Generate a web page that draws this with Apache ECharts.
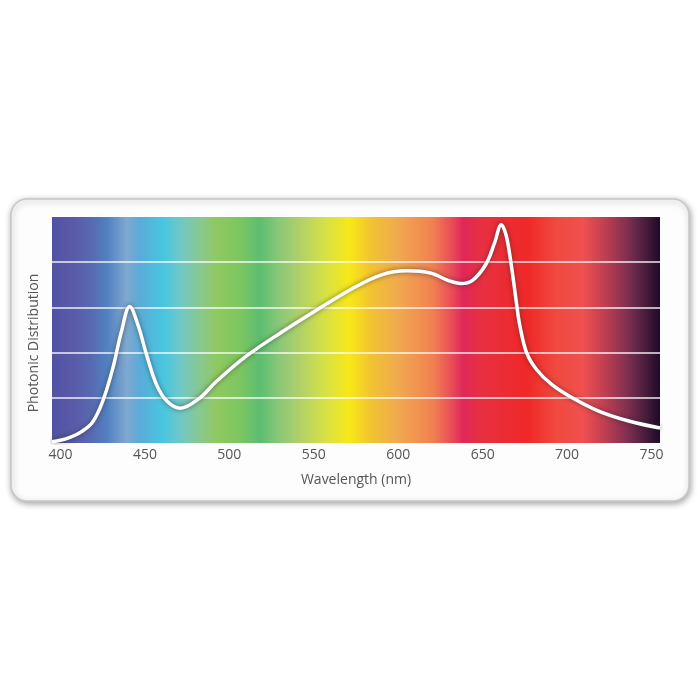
<!DOCTYPE html>
<html>
<head>
<meta charset="utf-8">
<script src="https://cdn.jsdelivr.net/npm/echarts@6/dist/echarts.min.js"></script>
<style>html,body{margin:0;padding:0;background:#fff}#c{width:700px;height:700px}</style>
</head>
<body>
<div id="c"></div>
<script>
// Data
const wavelengths = [395,400,406,412,419,425,431,436,441,446,451,457,463,471,482,492,510,530,552,573,590,605,619,630,637,644,652,657,661,664,667,670,672,676,682,691,703,719,737,755];
const distribution = [0.03,0.06,0.13,0.24,0.46,0.92,1.65,2.45,3.02,2.6,1.95,1.28,0.93,0.77,0.98,1.35,1.92,2.43,2.95,3.42,3.72,3.81,3.76,3.59,3.53,3.6,3.96,4.42,4.83,4.58,3.92,3.1,2.6,2.0,1.62,1.29,1.0,0.7,0.48,0.33];
const xTickLabels = [400,450,500,550,600,650,700,750];
const xTitle = 'Wavelength (nm)';
const yTitle = 'Photonic Distribution';
// Spectrum background colour stops (offset across plot width, colour)
const spectrumOffsets = [0,0.035,0.0625,0.09,0.123,0.145,0.183,0.21,0.243,0.271,0.309,0.342,0.375,0.408,0.446,0.49,0.523,0.572,0.627,0.66,0.676,0.709,0.781,0.83,0.873,0.906,0.946,0.972,1];
const spectrumColors = ['#5052a4','#5a5aa8','#5868b0','#5080c0','#80a8d0','#58acd8','#48c6e0','#6ec8c8','#88c890','#90c860','#7cc660','#5cbe70','#8cc878','#b0d068','#d4e048','#f8e818','#f2c430','#f0a850','#f08050','#e84858','#e02858','#e83040','#f02828','#f04a40','#f05050','#c44050','#803050','#502040','#1e0a28'];

const chart = echarts.init(document.getElementById('c'), null, {renderer:'canvas'});
const font = '"Open Sans", "Liberation Sans", sans-serif';
chart.setOption({
  animation: false,
  backgroundColor: '#ffffff',
  graphic: {
    elements: [{
      type: 'rect', z: -10,
      shape: {x: 11, y: 199, width: 678, height: 302, r: 16},
      style: {fill: '#fdfdfd', stroke: '#c8c8c8', lineWidth: 1.5,
        shadowBlur: 6, shadowColor: 'rgba(0,0,0,0.35)', shadowOffsetX: 1, shadowOffsetY: 2}
    }]
  },
  grid: {
    left: 52, right: 40, top: 217, bottom: 257,
    show: true, borderWidth: 0,
    backgroundColor: {
      type: 'linear', x: 0, y: 0, x2: 1, y2: 0,
      colorStops: spectrumOffsets.map((o, i) => ({offset: o, color: spectrumColors[i]}))
    }
  },
  xAxis: {
    type: 'value', min: 395, max: 755,
    name: xTitle, nameLocation: 'middle', nameGap: 30,
    nameTextStyle: {color: '#555', fontSize: 14, fontFamily: font},
    axisLine: {show: false}, axisTick: {show: false}, splitLine: {show: false},
    axisLabel: {customValues: xTickLabels, color: '#555', fontSize: 14, fontFamily: font, margin: 5}
  },
  yAxis: {
    type: 'value', min: 0, max: 5, interval: 1,
    name: yTitle, nameLocation: 'middle', nameGap: 11,
    nameTextStyle: {color: '#555', fontSize: 14, fontFamily: font, padding: [0, 26, 0, 0]},
    axisLine: {show: false}, axisTick: {show: false}, axisLabel: {show: false},
    splitLine: {show: true, showMinLine: false, showMaxLine: false,
      lineStyle: {color: 'rgba(255,255,255,0.9)', width: 1.5}}
  },
  series: [{
    type: 'line',
    data: wavelengths.map((w, i) => [w, distribution[i]]),
    smooth: 0.35,
    showSymbol: false,
    clip: true,
    lineStyle: {color: '#ffffff', width: 3.5, shadowBlur: 5, shadowColor: 'rgba(40,40,40,0.6)'}
  }]
});
</script>
</body>
</html>
